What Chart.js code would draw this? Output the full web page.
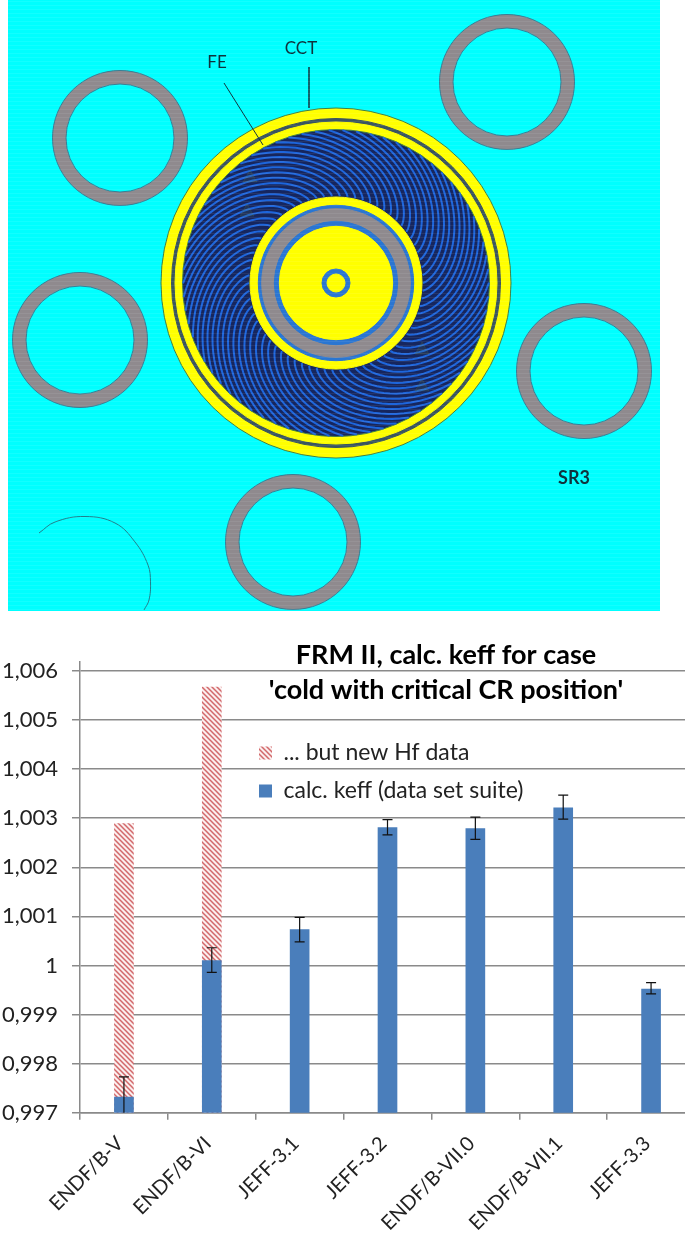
<!DOCTYPE html>
<html>
<head>
<meta charset="utf-8">
<style>
  html, body { margin: 0; padding: 0; background: #fff; width: 685px; height: 1242px; overflow: hidden; }
  #core { position: absolute; left: 8px; top: 0; }
  #keff { position: absolute; left: 0; top: 630px; }
</style>
<script src="https://cdn.jsdelivr.net/npm/chart.js@4"></script>
</head>
<body>
<canvas id="core" width="652" height="611"></canvas>
<canvas id="keff" width="695" height="612"></canvas>
<script>
// bar chart values
const categories = ["ENDF/B-V", "ENDF/B-VI", "JEFF-3.1", "JEFF-3.2", "ENDF/B-VII.0", "ENDF/B-VII.1", "JEFF-3.3"];
const calcKeff = [0.99732, 1.0001, 1.00073, 1.00281, 1.00279, 1.00321, 0.99952];
const newHf = [1.00289, 1.00567, null, null, null, null, null];
const errHigh = [0.99773, 1.00036, 1.00098, 1.00297, 1.00302, 1.00347, 0.99965];
const errLow = [0.997, 0.99986, 1.00048, 1.00266, 1.00257, 1.00298, 0.99942];

// reactor sketch, in picture units
const rodX = [120, 507, 80, 584, 293];
const rodY = [138, 82, 340, 371, 542];
const rodOuter = 67.5;
const rodInner = 54;
const coreX = 336;
const coreY = 283;
const coreRadii = [175, 164.5, 161, 153.5, 86, 77.7, 74.3, 61.7, 56.7, 14, 9];
const coreColors = ["#ffff00", "#3a5560", "#ffff00", "#16265e", "#ffff00", "#2a76d2", "#8f8a8e", "#2a76d2", "#ffff00", "#2a76d2", "#ffff00"];
const markX = [250, 247, 422, 422];
const markY = [178, 212, 350, 387];
const arcX = [39, 55, 85, 115, 135, 148, 150.5, 149, 144];
const arcY = [533, 522, 516.5, 523, 542, 565, 582, 600, 610];
const feLeaderX = [224, 263];
const feLeaderY = [83, 145];
const cctLeaderX = [309, 309];
const cctLeaderY = [67, 108];
const noteText = ["FE", "CCT", "SR3"];
const noteX = [217, 301, 574];
const noteY = [63, 49, 478];

const font = "Lato, Carlito, 'Open Sans', sans-serif";

function hatch() {
  const tile = document.createElement("canvas");
  tile.width = 5;
  tile.height = 5;
  const c = tile.getContext("2d");
  c.fillStyle = "#fbeeee";
  c.fillRect(0, 0, 5, 5);
  c.strokeStyle = "#d2686a";
  c.lineWidth = 1.5;
  c.beginPath();
  c.moveTo(-1, -1); c.lineTo(6, 6);
  c.moveTo(-1, 4); c.lineTo(1, 6);
  c.moveTo(4, -1); c.lineTo(6, 1);
  c.stroke();
  return c.createPattern(tile, "repeat");
}

const navyLayer = 5;

// fuel plates go on top of the navy disc, notes and scan lines on top of everything
const corePlugin = {
  id: "corePlugin",
  afterDatasetDraw(chart, args) {
    if (args.index !== navyLayer) return;
    const c = chart.ctx;
    const x = chart.scales.x;
    const y = chart.scales.y;
    const plates = 70;
    c.save();
    c.lineWidth = 2;
    c.strokeStyle = "#1e66dc";
    for (let i = 0; i < plates; i++) {
      const start = i * 2 * Math.PI / plates;
      c.beginPath();
      for (let r = 87; r <= 153; r += 3) {
        const a = start - 0.9 * Math.pow((r - 87) / 66, 1.3);
        const px = x.getPixelForValue(coreX + r * Math.cos(a));
        const py = y.getPixelForValue(coreY + r * Math.sin(a));
        if (r === 87) c.moveTo(px, py); else c.lineTo(px, py);
      }
      c.stroke();
    }
    c.restore();
  },
  afterDatasetsDraw(chart) {
    const c = chart.ctx;
    const x = chart.scales.x;
    const y = chart.scales.y;
    c.save();
    c.fillStyle = "rgba(255,255,255,0.07)";
    for (let row = 1; row < chart.height; row += 4) c.fillRect(0, row, chart.width, 1);
    c.fillStyle = "#10323c";
    c.textAlign = "center";
    c.textBaseline = "middle";
    noteText.forEach((t, i) => {
      c.font = (t === "SR3" ? "bold 18px " : "17px ") + font;
      c.fillText(t, x.getPixelForValue(noteX[i]), y.getPixelForValue(noteY[i]));
    });
    c.restore();
  }
};

const zip = (xs, ys) => xs.map((v, i) => ({ x: v, y: ys[i] }));
const bubbleLayer = (points, r, color, edge, order) => ({
  type: "bubble",
  data: points.map(p => ({ x: p.x, y: p.y, r: r })),
  backgroundColor: color,
  borderColor: edge,
  borderWidth: 1,
  clip: false,
  order: order
});
const lineLayer = (xs, ys, width, color, tension) => ({
  type: "scatter",
  data: zip(xs, ys),
  showLine: true,
  pointRadius: 0,
  borderColor: color,
  borderWidth: width,
  tension: tension,
  order: 0
});

const rods = zip(rodX, rodY);
const coreDatasets = [
  bubbleLayer(rods, rodOuter, "#8f8a8e", "#3a7d94", 200),
  bubbleLayer(rods, rodInner, "#00ffff", "#3a7d94", 199)
];
coreRadii.forEach((r, i) => {
  const edge = (i === 0 || i === 3) ? "#3f7f45" : coreColors[i];
  coreDatasets.push(bubbleLayer([{ x: coreX, y: coreY }], r, coreColors[i], edge, 100 - i));
});
coreDatasets.push({
  type: "scatter",
  data: zip(markX, markY),
  pointStyle: "triangle",
  pointRadius: 8,
  pointBackgroundColor: "rgba(95,125,70,0.16)",
  pointBorderColor: "rgba(95,125,70,0.22)",
  order: 50
});
coreDatasets.push(lineLayer(arcX, arcY, 1, "#1f7f8c", 0.4));
coreDatasets.push(lineLayer(feLeaderX, feLeaderY, 1, "#10323c", 0));
coreDatasets.push(lineLayer(cctLeaderX, cctLeaderY, 1.5, "#10323c", 0));

new Chart(document.getElementById("core"), {
  type: "bubble",
  data: { datasets: coreDatasets },
  plugins: [corePlugin, {
    id: "coreBg",
    beforeDraw(chart) {
      chart.ctx.fillStyle = "#00ffff";
      chart.ctx.fillRect(0, 0, chart.width, chart.height);
    }
  }],
  options: {
    responsive: false,
    animation: false,
    events: [],
    layout: { padding: 0, autoPadding: false },
    plugins: { legend: { display: false }, title: { display: false }, tooltip: { enabled: false } },
    scales: {
      x: { type: "linear", min: 8, max: 660, display: false },
      y: { type: "linear", min: 0, max: 611, reverse: true, display: false }
    }
  }
});

const errorBars = {
  id: "errorBars",
  afterDatasetsDraw(chart) {
    const c = chart.ctx;
    const y = chart.scales.y;
    const bars = chart.getDatasetMeta(1).data;
    c.save();
    c.strokeStyle = "#111";
    c.lineWidth = 1.2;
    categories.forEach((name, i) => {
      const px = bars[i].x;
      const hi = y.getPixelForValue(errHigh[i]);
      const lo = y.getPixelForValue(errLow[i]);
      c.beginPath();
      c.moveTo(px, hi); c.lineTo(px, lo);
      c.moveTo(px - 5, hi); c.lineTo(px + 5, hi);
      if (errLow[i] > y.min) { c.moveTo(px - 5, lo); c.lineTo(px + 5, lo); }
      c.stroke();
    });
    c.restore();
  }
};

// title and legend sit over the plot in the original
const placeBoxes = {
  id: "placeBoxes",
  afterLayout(chart) {
    chart.titleBlock.left = 207;
    chart.titleBlock.right = 685;
    const l = chart.legend;
    l.left = 244;
    l.right = 244 + l.width;
    l.top = 96.5;
    l.bottom = 96.5 + l.height;
  }
};

const axisGrey = "#8a8a8a";

new Chart(document.getElementById("keff"), {
  type: "bar",
  data: {
    labels: categories,
    datasets: [
      { label: "... but new Hf data", data: newHf, backgroundColor: hatch(), barThickness: 19, grouped: false, order: 2 },
      { label: "calc. keff (data set suite)", data: calcKeff, backgroundColor: "#4a7ebb", barThickness: 19, grouped: false, order: 1 }
    ]
  },
  plugins: [errorBars, placeBoxes],
  options: {
    responsive: false,
    animation: false,
    events: [],
    layout: { padding: 0 },
    plugins: {
      tooltip: { enabled: false },
      title: {
        display: true,
        text: ["FRM II, calc. keff for case", "'cold with critical CR position'"],
        color: "#000",
        font: { family: font, size: 27, weight: "bold", lineHeight: 1.3 },
        padding: { top: 7.5, bottom: -45.6 }
      },
      legend: {
        position: "chartArea",
        align: "start",
        labels: {
          color: "#222",
          font: { family: font, size: 23 },
          boxWidth: 13,
          boxHeight: 13,
          padding: 15,
          sort: (a, b) => a.datasetIndex - b.datasetIndex
        }
      }
    },
    scales: {
      x: {
        afterFit(scale) { scale.height = 129.3; },
        grid: { drawOnChartArea: false, color: axisGrey, lineWidth: 1.5, tickLength: 7 },
        border: { color: axisGrey, width: 1.5 },
        ticks: { color: "#222", font: { family: font, size: 20 }, maxRotation: 45, minRotation: 45, autoSkip: false, padding: 12, labelOffset: -4 }
      },
      y: {
        min: 0.997,
        max: 1.00618,
        afterFit(scale) { scale.width = 80; },
        grid: { color: axisGrey, lineWidth: 1.5, tickLength: 8 },
        border: { color: axisGrey, width: 1.5 },
        ticks: {
          stepSize: 0.001,
          includeBounds: false,
          autoSkip: false,
          color: "#222",
          padding: 14,
          font: { family: font, size: 22 },
          callback: (v) => Math.abs(v - 1) < 1e-6 ? "1" : v.toFixed(3).replace(".", ",")
        }
      }
    }
  }
});
</script>
</body>
</html>
